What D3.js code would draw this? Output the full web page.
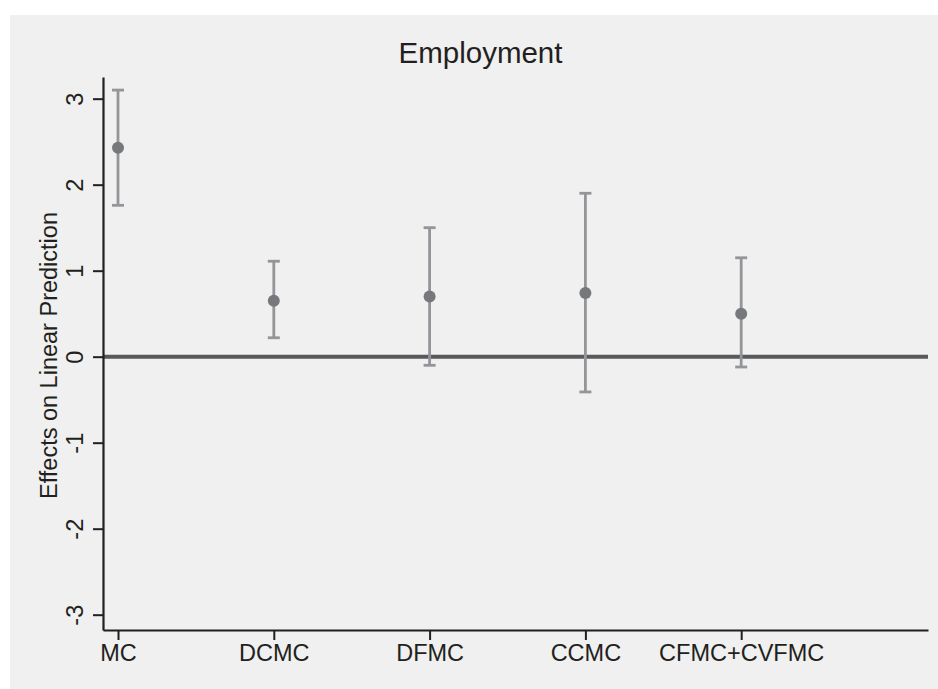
<!DOCTYPE html>
<html>
<head>
<meta charset="utf-8">
<script src="https://cdn.jsdelivr.net/npm/d3@7"></script>
<style>
  html, body { margin: 0; padding: 0; background: #ffffff; }
  svg { display: block; }
  text { font-family: "Liberation Sans", Arial, sans-serif; fill: #231f20; }
</style>
</head>
<body>
<svg id="chart" width="938" height="689"></svg>
<script>
// ---- data ----
const categories = ["MC", "DCMC", "DFMC", "CCMC", "CFMC+CVFMC"];
const estimates  = [2.43, 0.65, 0.70, 0.74, 0.50];
const lowerCI    = [1.76, 0.22, -0.10, -0.41, -0.12];
const upperCI    = [3.10, 1.11, 1.50, 1.90, 1.15];
const yTicks     = [-3, -2, -1, 0, 1, 2, 3];
const titleText  = "Employment";
const yTitleText = "Effects on Linear Prediction";

// ---- layout ----
const W = 938, H = 689;
const svg = d3.select("#chart");
const plotL = 103, plotR = 928, plotT = 77, plotB = 630;

svg.append("rect").attr("x", 10).attr("y", 15).attr("width", W - 10).attr("height", H - 15)
  .attr("fill", "#eff0ef");

const x = d3.scaleLinear().domain([0.9037, 6.199]).range([plotL, plotR]);
const y = d3.scaleLinear().domain([-3.178, 3.252]).range([plotB, plotT]);

// zero reference line
svg.append("line")
  .attr("x1", plotL).attr("x2", plotR)
  .attr("y1", y(0)).attr("y2", y(0))
  .attr("stroke", "#58595b").attr("stroke-width", 4);

// y axis
const yAxis = d3.axisLeft(y).tickValues(yTicks).tickSize(10).tickSizeOuter(0).tickFormat(d3.format("d"));
const gy = svg.append("g").attr("transform", `translate(${plotL},0)`).call(yAxis);
gy.select(".domain").attr("stroke", "#231f20").attr("stroke-width", 2.2);
gy.selectAll(".tick line").attr("stroke", "#231f20").attr("stroke-width", 2);
gy.selectAll(".tick text")
  .attr("x", 0).attr("y", 0).attr("dy", 0)
  .attr("transform", "translate(-20,0) rotate(-90)")
  .attr("text-anchor", "middle")
  .style("font-size", "23.5px")
  .attr("fill", "#231f20")
  .text(d => d < 0 ? "-" + Math.abs(d) : String(d));

// x axis
const xAxis = d3.axisBottom(x).tickValues(categories.map((c, i) => i + 1))
  .tickSize(10).tickSizeOuter(0).tickFormat((d) => categories[d - 1]);
const gx = svg.append("g").attr("transform", `translate(0,${plotB})`).call(xAxis);
gx.select(".domain").attr("stroke", "#231f20").attr("stroke-width", 2.2);
gx.selectAll(".tick line").attr("stroke", "#231f20").attr("stroke-width", 2);
gx.selectAll(".tick text").style("font-size", "23.5px").attr("fill", "#231f20").attr("y", 14);

svg.selectAll(".tick text").style("font-family", "'Liberation Sans', Arial, sans-serif");

// error bars
const idx = categories.map((c, i) => i);
const bars = svg.append("g");
bars.selectAll("line.ci").data(idx).join("line")
  .attr("class", "ci")
  .attr("x1", i => x(i + 1)).attr("x2", i => x(i + 1))
  .attr("y1", i => y(lowerCI[i])).attr("y2", i => y(upperCI[i]))
  .attr("stroke", "#939598").attr("stroke-width", 2.8);
bars.selectAll("line.capU").data(idx).join("line")
  .attr("class", "capU")
  .attr("x1", i => x(i + 1) - 6).attr("x2", i => x(i + 1) + 6)
  .attr("y1", i => y(upperCI[i])).attr("y2", i => y(upperCI[i]))
  .attr("stroke", "#939598").attr("stroke-width", 2.8);
bars.selectAll("line.capL").data(idx).join("line")
  .attr("class", "capL")
  .attr("x1", i => x(i + 1) - 6).attr("x2", i => x(i + 1) + 6)
  .attr("y1", i => y(lowerCI[i])).attr("y2", i => y(lowerCI[i]))
  .attr("stroke", "#939598").attr("stroke-width", 2.8);

// points
svg.append("g").selectAll("circle").data(idx).join("circle")
  .attr("cx", i => x(i + 1)).attr("cy", i => y(estimates[i]))
  .attr("r", 6).attr("fill", "#77787b");

// title
svg.append("text").attr("x", 480.5).attr("y", 63).attr("text-anchor", "middle")
  .style("font-size", "29.5px").text(titleText);

// y title
svg.append("text")
  .attr("transform", "translate(57,355.5) rotate(-90)")
  .attr("text-anchor", "middle")
  .style("font-size", "23.5px").text(yTitleText);
</script>
</body>
</html>
